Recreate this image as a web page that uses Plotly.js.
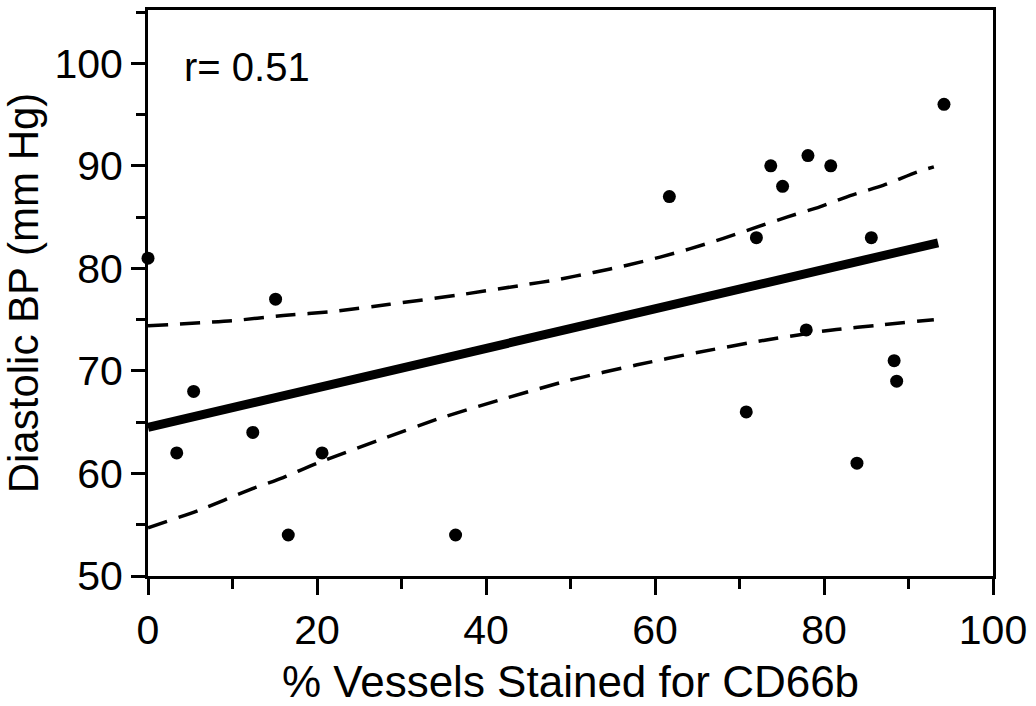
<!DOCTYPE html>
<html>
<head>
<meta charset="utf-8">
<script src="https://cdn.plot.ly/plotly-3.0.1.min.js"></script>
<style>html,body{margin:0;padding:0;background:#fff;}#chart{width:1036px;height:706px;}</style>
</head>
<body>
<div id="chart"></div>
<script>
// Data
const pointsX = [0, 3.4, 5.4, 12.4, 15.1, 16.6, 20.6, 36.4, 61.7, 70.8, 73.7, 72.0, 75.1, 78.1, 80.8, 77.9, 85.6, 83.9, 88.3, 88.6, 94.2];
const pointsY = [81, 62, 68, 64, 77, 54, 62, 54, 87, 66, 90, 83, 88, 91, 90, 74, 83, 61, 71, 69, 96];

const fitX = [0, 93.5];
const fitY = [64.5, 82.5];

const upperX = [0, 10, 16, 22, 28.6, 36.7, 44.6, 48.4, 52.7, 56.7, 60.6, 64.1, 68, 71.6, 75.6, 79.5, 83.1, 87, 91, 93];
const upperY = [74.4, 74.9, 75.4, 75.8, 76.5, 77.4, 78.4, 78.9, 79.6, 80.3, 81.1, 81.9, 82.9, 83.9, 85.0, 86.0, 87.1, 88.1, 89.4, 89.9];

const lowerX = [0, 6, 12, 16, 20, 27.5, 34.6, 42.2, 49.9, 57.9, 65, 73, 81, 87, 93];
const lowerY = [54.7, 56.4, 58.4, 59.6, 61.0, 63.3, 65.4, 67.3, 69.1, 70.6, 71.8, 73.0, 74.0, 74.5, 75.0];

const xTitle = "% Vessels Stained for CD66b";
const yTitle = "Diastolic BP (mm Hg)";
const rLabel = "r= 0.51";

const FONT = "Liberation Sans, Arial, Helvetica, sans-serif";

const traces = [
  {x: upperX, y: upperY, mode: "lines", line: {color: "#000", width: 3.5, dash: "20px,12px", shape: "spline", smoothing: 0.6}, hoverinfo: "skip"},
  {x: lowerX, y: lowerY, mode: "lines", line: {color: "#000", width: 3.5, dash: "20px,12px", shape: "spline", smoothing: 0.6}, hoverinfo: "skip"},
  {x: fitX, y: fitY, mode: "lines", line: {color: "#000", width: 9}, hoverinfo: "skip"},
  {x: pointsX, y: pointsY, mode: "markers", marker: {color: "#000", size: 13}, cliponaxis: false}
];

const layout = {
  width: 1036, height: 706,
  margin: {l: 148, r: 43, t: 10, b: 130},
  paper_bgcolor: "#fff", plot_bgcolor: "#fff",
  showlegend: false,
  font: {family: FONT, color: "#000", size: 41},
  xaxis: {
    range: [0, 100], dtick: 20, tick0: 0,
    showgrid: false, zeroline: false,
    showline: true, linewidth: 3, linecolor: "#000", mirror: true,
    ticks: "outside", ticklen: 16, tickwidth: 3, tickcolor: "#000",
    minor: {dtick: 10, ticks: "outside", ticklen: 10, tickwidth: 3, tickcolor: "#000", showgrid: false},
    tickfont: {family: FONT, size: 41, color: "#000"},
    title: {text: xTitle, font: {family: FONT, size: 44, color: "#000"}, standoff: 22}
  },
  yaxis: {
    range: [50, 105.2], dtick: 10, tick0: 50,
    showgrid: false, zeroline: false,
    showline: true, linewidth: 3, linecolor: "#000", mirror: true,
    ticks: "outside", ticklen: 14, tickwidth: 3, tickcolor: "#000",
    minor: {dtick: 5, ticks: "outside", ticklen: 9, tickwidth: 3, tickcolor: "#000", showgrid: false},
    tickfont: {family: FONT, size: 41, color: "#000"},
    title: {text: yTitle, font: {family: FONT, size: 42, color: "#000"}, standoff: 8}
  },
  annotations: [
    {xref: "paper", yref: "paper", x: 0.04, y: 0.9, xanchor: "left", yanchor: "middle",
     text: rLabel, showarrow: false, font: {family: FONT, size: 40, color: "#000"}}
  ]
};

Plotly.newPlot("chart", traces, layout, {staticPlot: true, displayModeBar: false});
</script>
</body>
</html>
